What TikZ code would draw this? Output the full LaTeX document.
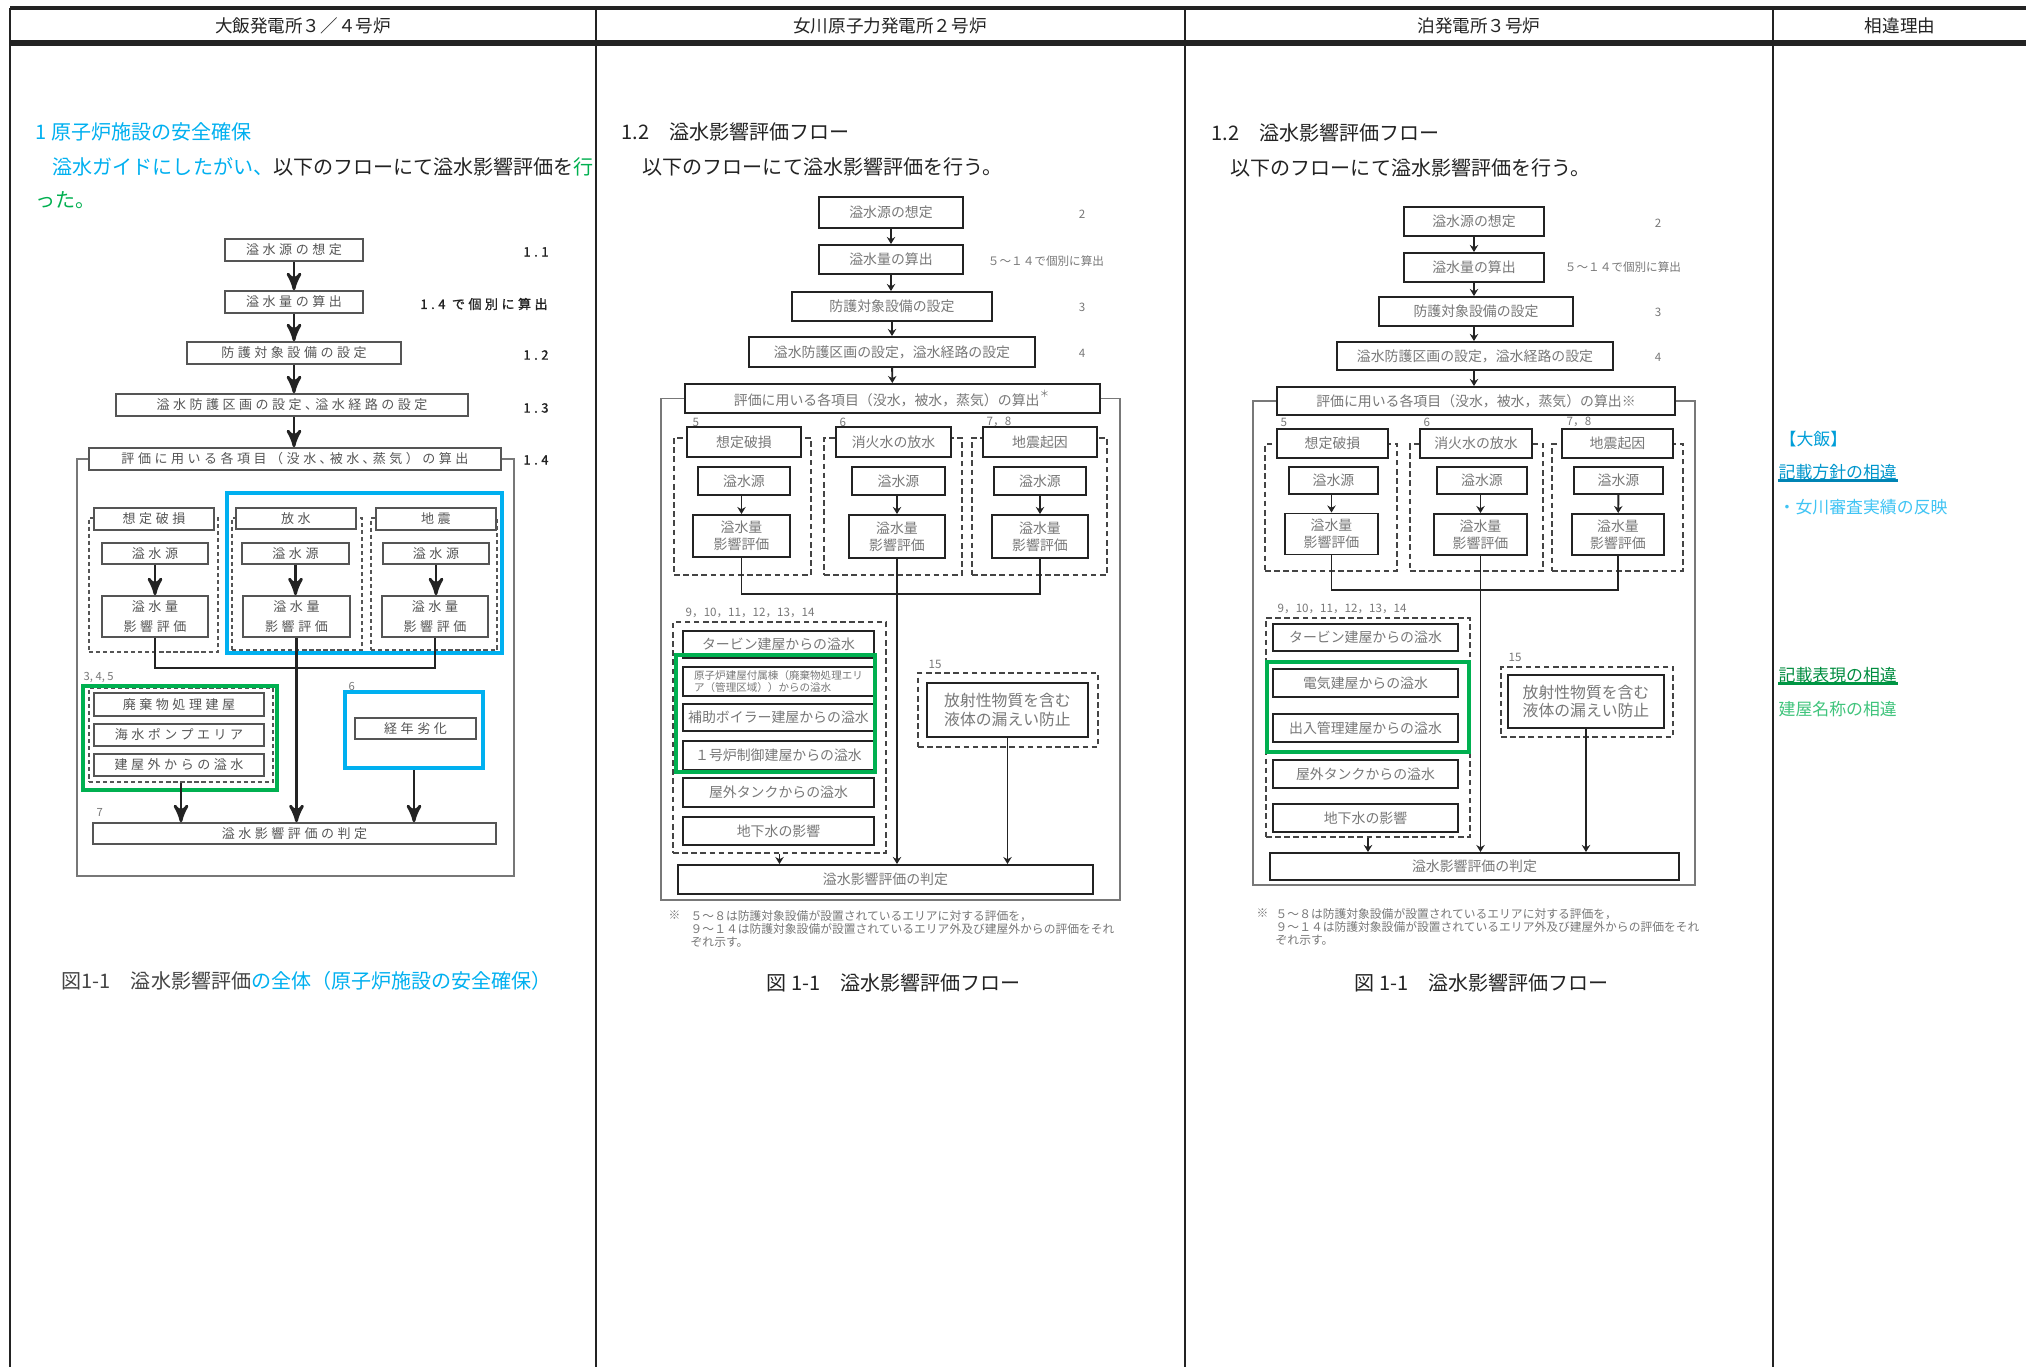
\documentclass[tikz,border=0pt]{standalone}
\usepackage{fontspec}
\setmainfont{Noto Sans CJK JP}
\newfontfamily\widefont[LetterSpace=27]{Noto Sans CJK JP}
\newfontfamily\wideboldfont[LetterSpace=27, FakeBold=1.2]{Noto Sans CJK JP}
\usepackage{tikz}
\usetikzlibrary{positioning, arrows, arrows.meta}

\definecolor{aqua}{RGB}{0,176,240}
\definecolor{leaf}{RGB}{0,176,80}
\definecolor{ink}{RGB}{35,35,35}
\definecolor{dim}{RGB}{85,85,85}
\definecolor{pale}{RGB}{120,120,120}

\tikzset{
>=stealth', % makes the arrow heads bold
wh/.style 2 args={minimum width=#1*0.1mm, minimum height=#2*0.1mm}, % box size in px
rule/.style={draw=ink, line width=0.55pt},
hdr/.style={font=\fontsize{5}{6}\selectfont, text=ink, inner sep=0pt},
para/.style={font=\fontsize{5.7}{7}\selectfont, text=ink, anchor=west, inner sep=0pt},
side/.style={font=\fontsize{4.8}{6}\selectfont, anchor=west, inner sep=0pt},
% left flow (Ohi)
obox/.style={draw=dim, line width=0.45pt, fill=white, inner sep=0pt, align=center, text=dim, font=\fontsize{3.7}{5.9}\selectfont\widefont},
onum/.style={font=\fontsize{3.7}{5}\selectfont\wideboldfont, text=ink, inner sep=0pt},
osmall/.style={font=\fontsize{3.2}{4}\selectfont, text=pale, anchor=west, inner sep=0pt},
ogrp/.style={draw=dim, line width=0.35pt, dash pattern=on 1.2pt off 0.8pt},
oarr/.style={->, draw=ink, line width=0.8pt},
oline/.style={draw=ink, line width=0.8pt},
oout/.style={draw=dim!80, line width=0.45pt},
% middle and right flows
pbox/.style={draw=ink, line width=0.55pt, fill=white, inner sep=0pt, align=center, text=pale, font=\fontsize{3.95}{4.9}\selectfont},
pnum/.style={font=\fontsize{3.3}{4}\selectfont, text=pale, inner sep=0pt},
pgrp/.style={draw=ink!85, line width=0.5pt, dash pattern=on 1.6pt off 1pt},
parr/.style={-{Stealth[length=2pt, width=2.4pt]}, draw=ink, line width=0.55pt},
pline/.style={draw=ink, line width=0.55pt},
pout/.style={draw=pale, line width=0.55pt},
pnote/.style={font=\fontsize{3.35}{3.7}\selectfont, text=pale, inner sep=0pt, align=left, anchor=north west},
tiny/.style={font=\fontsize{3}{3.6}\selectfont},
bigtxt/.style={font=\fontsize{4.5}{5.2}\selectfont},
% colour frames
cyanbox/.style={draw=aqua, line width=1.2pt},
greenbox/.style={draw=leaf, line width=1.2pt},
}

\begin{document}
\begin{tikzpicture}[x=0.01cm, y=-0.01cm]
\useasboundingbox (0,0) rectangle (2026,1367);
\fill[white] (0,0) rectangle (2026,1367);

% table frame
\draw[rule, line width=0.9pt] (10,8) -- (2026,8);
\draw[rule, line width=0.7pt] (10,41.5) -- (2026,41.5);
\draw[rule, line width=0.7pt] (10,44.5) -- (2026,44.5);
\foreach \xx in {10,596,1185,1773}
  \draw[rule] (\xx,8) -- (\xx,1367);
\node[hdr] (h1) at (303,26) {大飯発電所３／４号炉};
\node[hdr] (h2) at (890,26) {女川原子力発電所２号炉};
\node[hdr] (h3) at (1479,26) {泊発電所３号炉};
\node[hdr] (h4) at (1900,26) {相違理由};

% ---- Ohi 3/4
\node[para, text=aqua] (a0) at (35,132) {1 原子炉施設の安全確保};
\node[para] (a1) at (52,167) {\textcolor{aqua}{溢水ガイドにしたがい、}以下のフローにて溢水影響評価を\textcolor{leaf}{行}};
\node[para, text=leaf] (a2) at (35,200) {った。};

\node[obox, wh={138}{22}] (o1) at (294,250) {溢水源の想定};
\node[obox, wh={138}{22}] (o2) at (294,302) {溢水量の算出};
\node[obox, wh={214}{22}] (o3) at (294,353) {防護対象設備の設定};
\node[obox, wh={352}{22}] (o4) at (292,405) {溢水防護区画の設定､溢水経路の設定};
\node[obox, wh={412}{22}] (o5) at (295,459) {評価に用いる各項目（没水､被水､蒸気）の算出};
\node[onum] (n1) at (536,252) {1.1};
\node[onum] (n2) at (484,304) {1.4 で個別に算出};
\node[onum] (n3) at (536,355) {1.2};
\node[onum] (n4) at (536,408) {1.3};
\node[onum] (n5) at (536,460) {1.4};
\draw[oarr] (o1) -- (o2);
\draw[oarr] (o2) -- (o3);
\draw[oarr] (o3.south) -- (o3.south |- o4.north);
\draw[oarr] (o3.south |- o4.south) -- (o3.south |- o5.north);
\draw[oout] (o5.west) -- (77,459) |- (514,876) |- (o5.east);

\node[ogrp, wh={129}{134}] (og1) at (153.5,585) {};
\node[ogrp, wh={130}{132}] (og2) at (297,584) {};
\node[ogrp, wh={126}{132}] (og3) at (434,584) {};
\node[obox, wh={120}{22}] (ol1) at (154,519) {想定破損};
\node[obox, wh={120}{21}] (ol2) at (296,518.5) {放水};
\node[obox, wh={120}{22}] (ol3) at (436,519) {地震};
\node[obox, wh={106}{21}] (os1) at (155,553.5) {溢水源};
\node[obox, wh={107}{21}] (os2) at (295.5,553.5) {溢水源};
\node[obox, wh={106}{21}] (os3) at (436,553.5) {溢水源};
\node[obox, wh={106}{41}] (oe1) at (155,616.5) {溢水量\\影響評価};
\node[obox, wh={107}{41}] (oe2) at (296.5,616.5) {溢水量\\影響評価};
\node[obox, wh={106}{41}] (oe3) at (435,616.5) {溢水量\\影響評価};
\draw[oarr] (os1) -- (os1 |- oe1.north);
\draw[oarr] (os2) -- (os2 |- oe2.north);
\draw[oarr] (os3) -- (os3 |- oe3.north);
\node[cyanbox, wh={275}{160}] (oc1) at (364.5,573) {};

\coordinate (om) at (296,668);
\draw[oline] (oe1.south) |- (om) -| (oe3.south);

\node[osmall] (t345) at (83,677) {3, 4, 5};
\node[ogrp, wh={184}{94}] (og4) at (181,735) {};
\node[obox, wh={170}{23}] (ob1) at (179,704.5) {廃棄物処理建屋};
\node[obox, wh={170}{22}] (ob2) at (179,735) {海水ポンプエリア};
\node[obox, wh={170}{22}] (ob3) at (179,765) {建屋外からの溢水};
\node[greenbox, wh={194}{104}] (oB) at (180,738) {};
\node[osmall] (t6) at (348,686) {6};
\node[cyanbox, wh={138}{76}] (og6) at (414,730) {};
\node[obox, wh={121}{21}] (ok1) at (415.5,728.5) {経年劣化};
\node[osmall] (t7) at (96,812) {7};
\node[obox, wh={403}{21}] (of) at (294.5,833.5) {溢水影響評価の判定};
\draw[oarr] (oe2.south) -- (oe2.south |- of.north);
\draw[oarr] (og4.south) -- (og4.south |- of.north);
\draw[oarr] (og6.south) -- (og6.south |- of.north);

\node[para, text=ink!85] (acap) at (61,981) {図1-1　溢水影響評価\textcolor{aqua}{の全体（原子炉施設の安全確保）}};

% ---- Onagawa 2
\node[para] (b0) at (621,132) {1.2　溢水影響評価フロー};
\node[para] (b1) at (642,167) {以下のフローにて溢水影響評価を行う。};

\node[pbox, wh={144}{31}] (p1) at (891,212.5) {溢水源の想定};
\node[pbox, wh={144}{29}] (p2) at (891,259.5) {溢水量の算出};
\node[pbox, wh={200}{29}] (p3) at (892,306.5) {防護対象設備の設定};
\node[pbox, wh={286}{30}] (p4) at (892,352) {溢水防護区画の設定，溢水経路の設定};
\node[pbox, wh={415}{29}] (p5) at (892.5,398.5) {評価に用いる各項目（没水，被水，蒸気）の算出\textsuperscript{＊}};
\node[pnum] (m2) at (1082,214) {2};
\node[pnum] (m14) at (1046,261) {５～１４で個別に算出};
\node[pnum] (m3) at (1082,307) {3};
\node[pnum] (m4) at (1082,353) {4};
\draw[parr] (p1) -- (p2);
\draw[parr] (p2.south) -- (p2.south |- p3.north);
\draw[parr] (p3) -- (p4);
\draw[parr] (p4) -- (p5);
\draw[pout] (p5.west) -- (661,398.5) |- (1120,900) |- (p5.east);

\node[pnum, anchor=west] (m5) at (692,422) {5};
\node[pnum, anchor=west] (m6) at (839,422) {6};
\node[pnum, anchor=west] (m78) at (986,422) {7，8};
\node[pgrp, wh={137}{137}] (pg1) at (742.5,506.5) {};
\node[pgrp, wh={138}{137}] (pg2) at (893,506.5) {};
\node[pgrp, wh={135}{137}] (pg3) at (1039.5,506.5) {};
\node[pbox, wh={114}{30}] (pl1) at (744,442) {想定破損};
\node[pbox, wh={115}{30}] (pl2) at (893.5,442) {消火水の放水};
\node[pbox, wh={114}{30}] (pl3) at (1040,442) {地震起因};
\node[pbox, wh={92}{28}] (ps1) at (744,481) {溢水源};
\node[pbox, wh={93}{28}] (ps2) at (898.5,481) {溢水源};
\node[pbox, wh={92}{28}] (ps3) at (1040,481) {溢水源};
\node[pbox, wh={97}{42}] (pe1) at (741.5,536) {溢水量\\影響評価};
\node[pbox, wh={96}{43}] (pe2) at (897,536.5) {溢水量\\影響評価};
\node[pbox, wh={96}{43}] (pe3) at (1040,536.5) {溢水量\\影響評価};
\draw[parr] (pe1 |- ps1.south) -- (pe1.north);
\draw[parr] (pe2 |- ps2.south) -- (pe2.north);
\draw[parr] (ps3) -- (pe3);

\coordinate (pm) at (897,594);
\draw[pline] (pe1.south) |- (pm) -| (pe3.south);

\node[pnum, anchor=west] (m9) at (685,613) {9，10，11，12，13，14};
\node[pgrp, wh={213}{231}] (pgt) at (779.5,737.5) {};
\node[pbox, wh={191}{27}] (pt1) at (778.5,644.5) {タービン建屋からの溢水};
\node[pbox, wh={191}{29}, tiny, align=left] (pt2) at (778.5,681.5) {原子炉建屋付属棟（廃棄物処理エリ\\ア（管理区域））からの溢水};
\node[pbox, wh={191}{27}] (pt3) at (778.5,717.5) {補助ボイラー建屋からの溢水};
\node[pbox, wh={191}{29}] (pt4) at (778.5,755.5) {１号炉制御建屋からの溢水};
\node[pbox, wh={191}{29}] (pt5) at (778.5,792.5) {屋外タンクからの溢水};
\node[pbox, wh={191}{28}] (pt6) at (778.5,831) {地下水の影響};
\node[greenbox, wh={199}{117}] (pB) at (775.5,713.5) {};

\node[pnum, anchor=west] (m15) at (928,664) {15};
\node[pgrp, wh={180}{74}] (pg15) at (1008,710) {};
\node[pbox, wh={161}{54}, bigtxt] (pr) at (1007.5,710) {放射性物質を含む\\液体の漏えい防止};
\node[pbox, wh={415}{29}] (pf) at (885.5,879.5) {溢水影響評価の判定};
\draw[parr] (pgt.south) -- (pgt.south |- pf.north);
\draw[parr] (pe2.south) -- (pe2.south |- pf.north);
\draw[parr] (pr.south) -- (pr.south |- pf.north);

\node[pnote] (pn0) at (668,910) {※};
\node[pnote] (pn1) at (690,910) {５～８は防護対象設備が設置されているエリアに対する評価を，\\９～１４は防護対象設備が設置されているエリア外及び建屋外からの評価をそれ\\ぞれ示す。};
\node[para] (bcap) at (766,983) {図 1-1　溢水影響評価フロー};

% ---- Tomari 3
\node[para] (c0) at (1211,133) {1.2　溢水影響評価フロー};
\node[para] (c1) at (1230,168) {以下のフローにて溢水影響評価を行う。};

\node[pbox, wh={140}{29}] (q1) at (1474,221.5) {溢水源の想定};
\node[pbox, wh={140}{29}] (q2) at (1474,267.5) {溢水量の算出};
\node[pbox, wh={194}{29}] (q3) at (1476,311.5) {防護対象設備の設定};
\node[pbox, wh={276}{28}] (q4) at (1475,356) {溢水防護区画の設定，溢水経路の設定};
\node[pbox, wh={398}{28}] (q5) at (1476,401) {評価に用いる各項目（没水，被水，蒸気）の算出※};
\node[pnum] (r2) at (1658,223) {2};
\node[pnum] (r14) at (1623,267) {５～１４で個別に算出};
\node[pnum] (r3) at (1658,312) {3};
\node[pnum] (r4) at (1658,357) {4};
\draw[parr] (q1) -- (q2);
\draw[parr] (q2.south) -- (q2.south |- q3.north);
\draw[parr] (q2.south |- q3.south) -- (q2.south |- q4.north);
\draw[parr] (q2.south |- q4.south) -- (q2.south |- q5.north);
\draw[pout] (q5.west) -- (1253,401) |- (1695,885) |- (q5.east);

\node[pnum, anchor=west] (r5) at (1280,422) {5};
\node[pnum, anchor=west] (r6) at (1423,422) {6};
\node[pnum, anchor=west] (r78) at (1566,422) {7，8};
\node[pgrp, wh={132}{127}] (qg1) at (1331,507.5) {};
\node[pgrp, wh={133}{127}] (qg2) at (1476.5,507.5) {};
\node[pgrp, wh={131}{127}] (qg3) at (1617.5,507.5) {};
\node[pbox, wh={111}{29}] (ql1) at (1332.5,443.5) {想定破損};
\node[pbox, wh={112}{29}] (ql2) at (1476,443.5) {消火水の放水};
\node[pbox, wh={111}{29}] (ql3) at (1617.5,443.5) {地震起因};
\node[pbox, wh={89}{27}] (qs1) at (1333.5,480.5) {溢水源};
\node[pbox, wh={90}{27}] (qs2) at (1482,480.5) {溢水源};
\node[pbox, wh={89}{27}] (qs3) at (1618.5,480.5) {溢水源};
\node[pbox, wh={93}{41}] (qe1) at (1331.5,534) {溢水量\\影響評価};
\node[pbox, wh={93}{41}] (qe2) at (1480.5,534.5) {溢水量\\影響評価};
\node[pbox, wh={92}{41}] (qe3) at (1618,534.5) {溢水量\\影響評価};
\draw[parr] (qe1 |- qs1.south) -- (qe1.north);
\draw[parr] (qe2 |- qs2.south) -- (qe2.north);
\draw[parr] (qs3) -- (qe3);

\coordinate (qm) at (1480,590);
\draw[pline] (qe1.south) |- (qm) -| (qe3.south);

\node[pnum, anchor=west] (r9) at (1277,609) {9，10，11，12，13，14};
\node[pgrp, wh={204}{219}] (qgt) at (1368,727.5) {};
\node[pbox, wh={185}{27}] (qt1) at (1365.5,637.5) {タービン建屋からの溢水};
\node[pbox, wh={185}{28}] (qt2) at (1365.5,683) {電気建屋からの溢水};
\node[pbox, wh={185}{28}] (qt3) at (1365.5,728) {出入管理建屋からの溢水};
\node[pbox, wh={185}{28}] (qt4) at (1365.5,774) {屋外タンクからの溢水};
\node[pbox, wh={185}{28}] (qt5) at (1365.5,818) {地下水の影響};
\node[greenbox, wh={202}{90}] (qB) at (1368,707) {};

\node[pnum, anchor=west] (r15) at (1508,657) {15};
\node[pgrp, wh={172}{70}] (qg15) at (1587,702) {};
\node[pbox, wh={156}{53}, bigtxt] (qr) at (1586,701.5) {放射性物質を含む\\液体の漏えい防止};
\node[pbox, wh={409}{27}] (qf) at (1474.5,866.5) {溢水影響評価の判定};
\draw[parr] (qgt.south) -- (qgt.south |- qf.north);
\draw[parr] (qe2.south) -- (qe2.south |- qf.north);
\draw[parr] (qr.south) -- (qr.south |- qf.north);

\node[pnote] (qn0) at (1256,908) {※};
\node[pnote] (qn1) at (1275,908) {５～８は防護対象設備が設置されているエリアに対する評価を，\\９～１４は防護対象設備が設置されているエリア外及び建屋外からの評価をそれ\\ぞれ示す。};
\node[para] (ccap) at (1354,983) {図 1-1　溢水影響評価フロー};

% ---- reasons
\node[side, text=aqua!90!black] (d1) at (1779,439) {【大飯】};
\node[side, text=aqua!85!black] (d2) at (1778,472) {記載方針の相違};
\draw[aqua!75!black, line width=0.8pt] (d2.south west) -- (d2.south east);
\node[side, text=aqua!75] (d3) at (1778,507) {・女川審査実績の反映};
\node[side, text=leaf!80!black] (d4) at (1778,675) {記載表現の相違};
\draw[leaf!85!black, line width=0.8pt] (d4.south west) -- (d4.south east);
\node[side, text=leaf!75] (d5) at (1778,709) {建屋名称の相違};
\end{tikzpicture}
\end{document}
